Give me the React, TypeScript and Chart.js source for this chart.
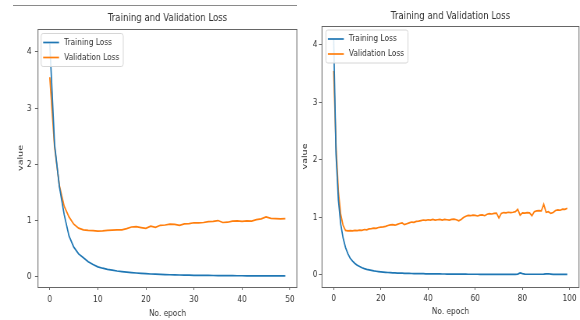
import React, { useEffect, useRef } from "react";
import { Chart, registerables } from "chart.js";

Chart.register(...registerables);

const TITLE = "Training and Validation Loss";
const X_LABEL = "No. epoch";
const Y_LABEL = "value";
const SERIES_LABELS = ["Training Loss", "Validation Loss"];
const COLORS = ["#1f77b4", "#ff7f0e"];

const yTicks = [0, 1, 2, 3, 4];
const leftXTicks = [0, 10, 20, 30, 40, 50];
const rightXTicks = [0, 20, 40, 60, 80, 100];

// Left run: 50 epochs
const trainLossA = [
  4.15, 2.35, 1.6, 1.1, 0.72, 0.52, 0.4, 0.33, 0.26, 0.21,
  0.17, 0.145, 0.125, 0.11, 0.095, 0.085, 0.076, 0.068, 0.06, 0.053,
  0.047, 0.042, 0.038, 0.034, 0.031, 0.028, 0.026, 0.024, 0.022, 0.02,
  0.019, 0.018, 0.017, 0.016, 0.015, 0.014, 0.013, 0.013, 0.012, 0.011,
  0.011, 0.01, 0.01, 0.009, 0.009, 0.008, 0.008, 0.008, 0.007, 0.007,
];
const valLossA = [
  3.55, 2.3, 1.62, 1.25, 1.06, 0.93, 0.86, 0.83, 0.82, 0.815,
  0.805, 0.81, 0.82, 0.825, 0.83, 0.83, 0.85, 0.88, 0.885, 0.87,
  0.855, 0.895, 0.875, 0.91, 0.915, 0.93, 0.925, 0.91, 0.935, 0.94,
  0.955, 0.955, 0.96, 0.975, 0.98, 0.995, 0.96, 0.965, 0.985, 0.99,
  0.98, 0.99, 0.985, 1.01, 1.025, 1.06, 1.035, 1.03, 1.025, 1.03,
];

// Right run: 100 epochs
const trainLossB = [
  4.1, 2.1, 1.3, 0.88, 0.64, 0.48, 0.37, 0.29, 0.24, 0.2,
  0.17, 0.145, 0.125, 0.11, 0.097, 0.087, 0.078, 0.07, 0.064, 0.058,
  0.053, 0.049, 0.045, 0.042, 0.039, 0.037, 0.035, 0.033, 0.031, 0.03,
  0.028, 0.027, 0.026, 0.025, 0.024, 0.023, 0.022, 0.021, 0.021, 0.02,
  0.019, 0.019, 0.018, 0.018, 0.017, 0.017, 0.016, 0.016, 0.015, 0.015,
  0.015, 0.014, 0.014, 0.014, 0.013, 0.013, 0.013, 0.012, 0.012, 0.012,
  0.012, 0.012, 0.011, 0.011, 0.011, 0.011, 0.011, 0.01, 0.01, 0.01,
  0.01, 0.01, 0.01, 0.01, 0.01, 0.01, 0.01, 0.01, 0.015, 0.035,
  0.022, 0.015, 0.012, 0.012, 0.012, 0.012, 0.012, 0.012, 0.012, 0.013,
  0.018, 0.02, 0.015, 0.01, 0.01, 0.01, 0.01, 0.01, 0.01, 0.01,
];
const valLossB = [
  3.55, 2.25, 1.45, 1.05, 0.86, 0.775, 0.765, 0.77, 0.765, 0.775,
  0.77, 0.78, 0.775, 0.79, 0.785, 0.8, 0.805, 0.815, 0.81, 0.825,
  0.83, 0.835, 0.845, 0.86, 0.87, 0.875, 0.865, 0.88, 0.895, 0.905,
  0.875, 0.89, 0.905, 0.92, 0.915, 0.93, 0.935, 0.945, 0.955, 0.95,
  0.96, 0.955, 0.965, 0.955, 0.96, 0.965, 0.955, 0.965, 0.96, 0.955,
  0.965, 0.97, 0.96, 0.94, 0.965, 1.0, 1.02, 1.035, 1.03, 1.04,
  1.035, 1.025, 1.04, 1.045, 1.03, 1.055, 1.065, 1.06, 1.07, 1.075,
  0.99, 1.07, 1.085, 1.08, 1.09, 1.085, 1.09, 1.1, 1.14, 1.04,
  1.08, 1.075, 1.085, 1.08, 1.03, 1.1, 1.115, 1.12, 1.115, 1.23,
  1.09, 1.1, 1.07, 1.085, 1.12, 1.13, 1.125, 1.145, 1.14, 1.16,
];

const S = 0.78; // horizontal squeeze of the reference image
const FONT = "'DejaVu Sans', sans-serif";
const AXIS_COLOR = "#666";
const TEXT_COLOR = "#333";
const TICK_SIZE = 9.5;
const TITLE_SIZE = 11;

const framePlugin = {
  id: "mplFrame",
  afterDatasetsDraw(chart: any) {
    const { ctx, chartArea: ca } = chart;
    ctx.save();
    ctx.strokeStyle = AXIS_COLOR;
    ctx.lineWidth = 1;
    ctx.strokeRect(ca.left, Math.round(ca.top) + 0.5, ca.right - ca.left, Math.round(ca.bottom) - Math.round(ca.top));
    ctx.restore();
  },
};

const legendPlugin = {
  id: "mplLegend",
  afterDraw(chart: any, _args: any, opts: any) {
    const { ctx, chartArea: ca } = chart;
    ctx.save();
    ctx.font = `${TICK_SIZE}px ${FONT}`;
    const labels = chart.data.datasets.map((d: any) => d.label);
    const textW = Math.max(...labels.map((l: string) => ctx.measureText(l).width));
    const x0 = ca.left + opts.dx;
    const y0 = ca.top + opts.dy;
    const w = 29.5 + textW + 5;
    const h = 33;
    ctx.beginPath();
    ctx.roundRect(x0, y0, w, h, 2.5);
    ctx.fillStyle = "rgba(255,255,255,0.85)";
    ctx.fill();
    ctx.strokeStyle = "#d6d6d6";
    ctx.lineWidth = 1;
    ctx.stroke();
    chart.data.datasets.forEach((d: any, i: number) => {
      const y = y0 + 9 + i * 15;
      ctx.beginPath();
      ctx.moveTo(x0 + 2.6, y);
      ctx.lineTo(x0 + 23, y);
      ctx.strokeStyle = d.borderColor;
      ctx.lineWidth = 1.7;
      ctx.stroke();
      ctx.fillStyle = TEXT_COLOR;
      ctx.textBaseline = "middle";
      ctx.textAlign = "left";
      ctx.fillText(d.label, x0 + 29.5, y);
    });
    ctx.restore();
  },
};

type PanelProps = {
  train: number[];
  val: number[];
  xTicks: number[];
  xMin: number;
  xMax: number;
  yMin: number;
  yMax: number;
  left: number;
  canvasW: number;
  padRight: number;
  yWidth: number;
  yTitlePad: number;
  yTickPad: number;
  xTickPad: number;
  xTitlePad: number;
  titlePadTop: number;
  titlePadBottom: number;
  legendDx: number;
  legendDy: number;
};

function Panel(p: PanelProps) {
  const ref = useRef<HTMLCanvasElement | null>(null);
  useEffect(() => {
    if (!ref.current) return;
    const tickFont = { family: FONT, size: TICK_SIZE, lineHeight: 1.2 };
    const chart = new Chart(ref.current, {
      type: "line",
      data: {
        datasets: [
          {
            label: SERIES_LABELS[0],
            data: p.train.map((v, i) => ({ x: i, y: v })),
            borderColor: COLORS[0],
            backgroundColor: COLORS[0],
            borderWidth: 1.7,
            pointRadius: 0,
            tension: 0,
          },
          {
            label: SERIES_LABELS[1],
            data: p.val.map((v, i) => ({ x: i, y: v })),
            borderColor: COLORS[1],
            backgroundColor: COLORS[1],
            borderWidth: 1.7,
            pointRadius: 0,
            tension: 0,
          },
        ],
      },
      options: {
        animation: false,
        responsive: true,
        maintainAspectRatio: false,
        devicePixelRatio: 1,
        layout: { padding: { left: 0, right: p.padRight, top: 0, bottom: 0 } },
        plugins: {
          legend: { display: false },
          tooltip: { enabled: false },
          title: {
            display: true,
            text: TITLE,
            fullSize: false,
            color: TEXT_COLOR,
            font: { family: FONT, size: TITLE_SIZE, weight: "normal", lineHeight: 1.2 },
            padding: { top: p.titlePadTop, bottom: p.titlePadBottom },
          },
          mplLegend: { dx: p.legendDx, dy: p.legendDy },
        } as any,
        scales: {
          x: {
            type: "linear",
            min: p.xMin,
            max: p.xMax,
            afterBuildTicks: (scale: any) => {
              scale.ticks = p.xTicks.map((v) => ({ value: v }));
            },
            afterFit: (scale: any) => {
              scale.height = 33;
            },
            border: { display: false },
            grid: {
              display: true,
              drawOnChartArea: false,
              drawTicks: true,
              tickLength: 3,
              color: AXIS_COLOR,
            },
            ticks: {
              autoSkip: false,
              maxRotation: 0,
              padding: p.xTickPad,
              color: TEXT_COLOR,
              font: tickFont,
              callback: (v: any) => String(v),
            },
            title: {
              display: true,
              text: X_LABEL,
              color: TEXT_COLOR,
              font: tickFont,
              padding: { top: 0, bottom: p.xTitlePad },
            },
          },
          y: {
            type: "linear",
            min: p.yMin,
            max: p.yMax,
            afterBuildTicks: (scale: any) => {
              scale.ticks = yTicks.map((v) => ({ value: v }));
            },
            afterFit: (scale: any) => {
              scale.width = p.yWidth;
            },
            border: { display: false },
            grid: {
              display: true,
              drawOnChartArea: false,
              drawTicks: true,
              tickLength: 3.85,
              color: AXIS_COLOR,
            },
            ticks: {
              autoSkip: false,
              padding: p.yTickPad,
              color: TEXT_COLOR,
              font: tickFont,
              callback: (v: any) => String(v),
            },
            title: {
              display: true,
              text: Y_LABEL,
              color: TEXT_COLOR,
              font: tickFont,
              padding: { top: p.yTitlePad, bottom: 0 },
            },
          },
        },
      } as any,
      plugins: [framePlugin, legendPlugin],
    });
    return () => chart.destroy();
  }, []);
  return (
    <div
      style={{
        position: "absolute",
        left: p.left,
        top: 0,
        width: p.canvasW,
        height: 320,
        transform: `scaleX(${S})`,
        transformOrigin: "0 0",
      }}
    >
      <canvas ref={ref} />
    </div>
  );
}

export default function App() {
  return (
    <div
      style={{
        position: "fixed",
        left: 0,
        top: 0,
        width: 580,
        height: 320,
        overflow: "hidden",
        background: "#fff",
      }}
    >
      <div
        style={{
          position: "absolute",
          left: 13,
          top: 5,
          width: 284,
          height: 1,
          background: "#8a8a8a",
        }}
      />
      <Panel
        train={trainLossA}
        val={valLossA}
        xTicks={leftXTicks}
        xMin={-2.45}
        xMax={51.45}
        yMin={-0.19}
        yMax={4.41}
        left={0}
        canvasW={385}
        padRight={4.2}
        yWidth={48.7}
        yTitlePad={20.8}
        yTickPad={4.2}
        xTickPad={4}
        xTitlePad={0.8}
        titlePadTop={12}
        titlePadBottom={3.8}
        legendDx={4}
        legendDy={4.5}
      />
      <Panel
        train={trainLossB}
        val={valLossB}
        xTicks={rightXTicks}
        xMin={-4.95}
        xMax={103.95}
        yMin={-0.21}
        yMax={4.33}
        left={296}
        canvasW={375}
        padRight={12.2}
        yWidth={33.3}
        yTitlePad={5.8}
        yTickPad={2}
        xTickPad={2.6}
        xTitlePad={2.6}
        titlePadTop={9.2}
        titlePadBottom={3.6}
        legendDx={5}
        legendDy={4}
      />
    </div>
  );
}
